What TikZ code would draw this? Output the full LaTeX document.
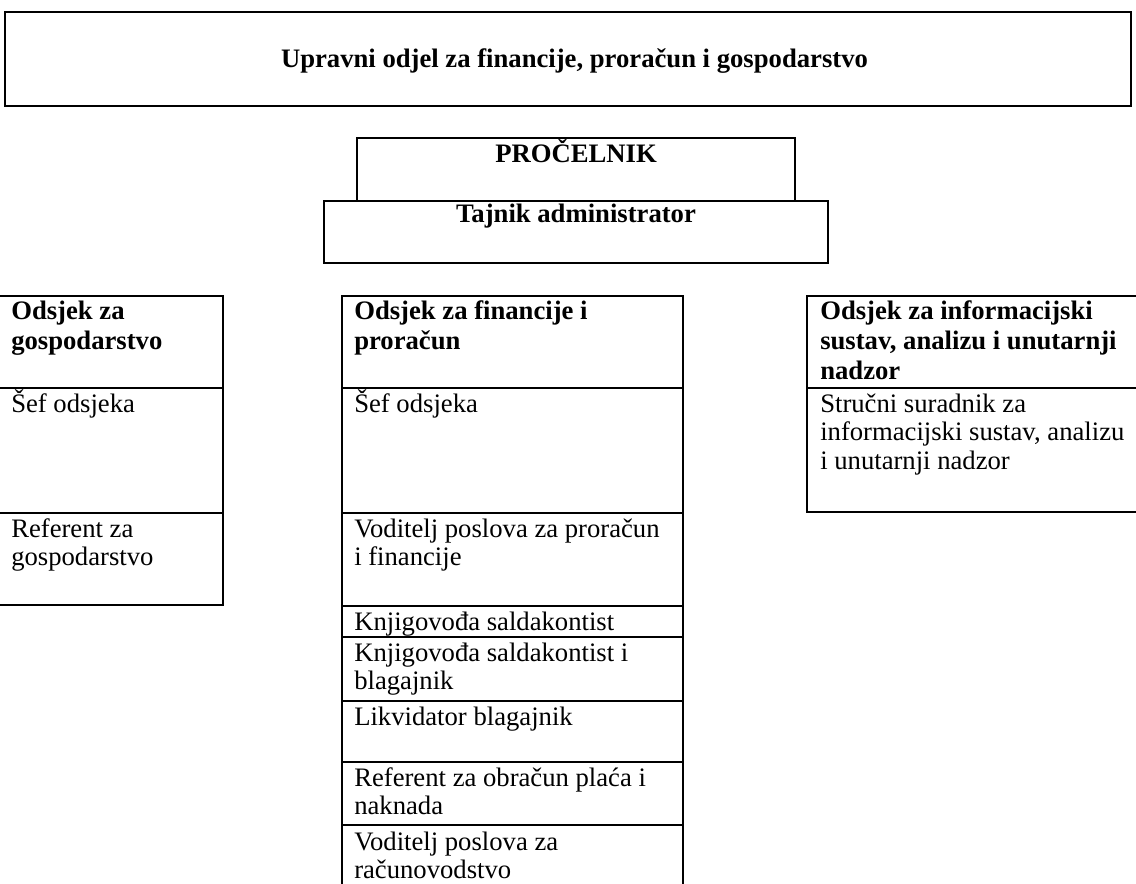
\documentclass[tikz,border=0pt]{standalone}
\usepackage{fontspec}
\setmainfont{Liberation Serif}
\newcommand\celltext[1]{\parbox[t]{330pt}{\raggedright #1}}
\begin{document}
\begin{tikzpicture}[x=0.75pt,y=-0.75pt,
  cell/.style={draw=black, line width=1.5pt},
  txt/.style={anchor=base west, inner sep=0pt, font=\fontsize{20}{21.4}\selectfont},
  btxt/.style={anchor=base west, inner sep=0pt, font=\fontsize{20}{22.2}\selectfont\bfseries},
  ctitle/.style={anchor=base, inner sep=0pt, font=\fontsize{20}{21.4}\selectfont\bfseries}]
\useasboundingbox (0,0) rectangle (1136,884);
% top box
\draw[cell] (5,12) rectangle (1131,106);
\node[ctitle] (title) at (574.5,68) {Upravni odjel za financije, proračun i gospodarstvo};
% head boxes
\draw[cell] (357,138) rectangle (795,201);
\node[ctitle] (pro) at (576,163) {PROČELNIK};
\draw[cell] (324,201) rectangle (828,263);
\node[ctitle] (taj) at (576,223) {Tajnik administrator};
% left column
\draw[cell] (-4,296) rectangle (223,605);
\draw[cell] (-4,388) -- (223,388);
\draw[cell] (-4,513) -- (223,513);
\node[btxt] (l0) at (11,320) {\celltext{Odsjek za\\gospodarstvo}};
\node[txt] (l1) at (11,412) {\celltext{Šef odsjeka}};
\node[txt] (l2) at (11,537) {\celltext{Referent za\\gospodarstvo}};
% middle column
\draw[cell] (342,895) -- (342,296) -- (683,296) -- (683,895);
\foreach \yy in {388,513,606,637,701,762,825}
  \draw[cell] (342,\yy) -- (683,\yy);
\node[btxt] (m0) at (354,320) {\celltext{Odsjek za financije i\\proračun}};
\node[txt] (m1) at (354,412) {\celltext{Šef odsjeka}};
\node[txt] (m2) at (354,537) {\celltext{Voditelj poslova za proračun\\i financije}};
\node[txt] (m3) at (354,630) {\celltext{Knjigovođa saldakontist}};
\node[txt] (m4) at (354,661) {\celltext{Knjigovođa saldakontist i\\blagajnik}};
\node[txt] (m5) at (354,725) {\celltext{Likvidator blagajnik}};
\node[txt] (m6) at (354,786) {\celltext{Referent za obračun plaća i\\naknada}};
\node[txt] (m7) at (354,850) {\celltext{Voditelj poslova za\\računovodstvo}};
% right column
\draw[cell] (807,296) rectangle (1145,512);
\draw[cell] (807,388) -- (1145,388);
\node[btxt] (r0) at (820,320) {\celltext{Odsjek za informacijski\\sustav, analizu i unutarnji\\nadzor}};
\node[txt] (r1) at (820,412) {\celltext{Stručni suradnik za\\informacijski sustav, analizu\\i unutarnji nadzor}};
\end{tikzpicture}
\end{document}
